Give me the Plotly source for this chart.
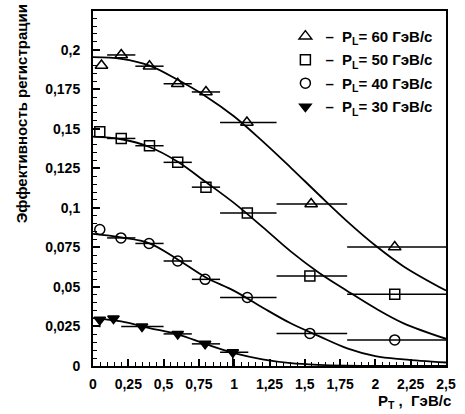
import plotly.graph_objects as go

# ---- data ----
# P_L = 60 GeV/c (open triangles)
x60 = [0.06, 0.20, 0.40, 0.60, 0.80, 1.09, 1.545, 2.137]
y60 = [0.190, 0.1967, 0.1896, 0.1785, 0.1733, 0.154, 0.1024, 0.0752]
lo60 = [None, 0.10, 0.30, 0.50, 0.70, 0.90, 1.30, 1.80]
hi60 = [None, 0.30, 0.50, 0.70, 0.90, 1.30, 1.80, 2.50]

# P_L = 50 GeV/c (open squares)
x50 = [0.048, 0.20, 0.40, 0.60, 0.80, 1.093, 1.536, 2.137]
y50 = [0.1481, 0.1439, 0.1393, 0.1288, 0.1131, 0.0967, 0.0569, 0.0454]
lo50 = [None, 0.10, 0.30, 0.50, 0.70, 0.90, 1.30, 1.80]
hi50 = [None, 0.30, 0.50, 0.70, 0.90, 1.30, 1.80, 2.50]

# P_L = 40 GeV/c (open circles)
x40 = [0.048, 0.198, 0.397, 0.60, 0.794, 1.093, 1.536, 2.137]
y40 = [0.0863, 0.081, 0.0775, 0.0664, 0.0548, 0.0433, 0.0206, 0.0165]
lo40 = [None, 0.10, 0.30, 0.50, 0.70, 0.90, 1.30, 1.80]
hi40 = [None, 0.30, 0.50, 0.70, 0.90, 1.30, 1.80, 2.50]

# P_L = 30 GeV/c (filled down triangles)
x30 = [0.048, 0.145, 0.347, 0.60, 0.794, 0.99]
y30 = [0.0292, 0.030, 0.025, 0.0203, 0.014, 0.0087]
lo30 = [None, None, 0.20, 0.50, 0.70, 0.90]
hi30 = [None, None, 0.50, 0.70, 0.90, 1.10]
ylo30 = [0.0245, None, None, None, None, 0.0]

cx = [0, 0.2, 0.4, 0.6, 0.8, 1.0, 1.2, 1.4, 1.6, 1.8, 2.0, 2.2, 2.5]
c60 = [0.1953, 0.1942, 0.1900, 0.1810, 0.1705, 0.1578, 0.1422, 0.1255, 0.1083, 0.0915, 0.0762, 0.0630, 0.0477]
c50 = [0.1450, 0.1434, 0.1385, 0.1292, 0.1163, 0.1030, 0.0880, 0.0725, 0.0590, 0.0475, 0.0365, 0.0270, 0.0172]
c40 = [0.0835, 0.0813, 0.0776, 0.0674, 0.0560, 0.0475, 0.0370, 0.0270, 0.0189, 0.0112, 0.0063, 0.0042, 0.0022]
c30 = [0.0303, 0.0282, 0.0240, 0.0200, 0.0138, 0.0081, 0.0042, 0.0018, 0.0007, 0.0002, 0.0, 0.0, 0.0]

names = ["–  P<sub>L</sub>= 60 ГэВ/с", "–  P<sub>L</sub>= 50 ГэВ/с",
         "–  P<sub>L</sub>= 40 ГэВ/с", "–  P<sub>L</sub>= 30 ГэВ/с"]

xt = [0, 0.25, 0.5, 0.75, 1, 1.25, 1.5, 1.75, 2, 2.25, 2.5]
xt_lab = ["0", "0,25", "0,5", "0,75", "1", "1,25", "1,5", "1,75", "2", "2,25", "2,5"]
yt = [0, 0.025, 0.05, 0.075, 0.1, 0.125, 0.15, 0.175, 0.2]
yt_lab = ["0", "0,025", "0,05", "0,075", "0,1", "0,125", "0,15", "0,175", "0,2"]

FONT = "Liberation Sans"
fig = go.Figure()

for cy in [c60, c50, c40, c30]:
    fig.add_trace(go.Scatter(x=cx, y=cy, mode="lines", line=dict(color="black", width=1.8, shape="spline", smoothing=1.0),
                             showlegend=False, hoverinfo="skip"))


def err(xs, lo, hi):
    plus = [(h - x) if h is not None else 0 for x, h in zip(xs, hi)]
    minus = [(x - l) if l is not None else 0 for x, l in zip(xs, lo)]
    return plus, minus


series = [
    (x60, y60, lo60, hi60, "triangle-up-open", 11, names[0], None),
    (x50, y50, lo50, hi50, "square-open", 10, names[1], None),
    (x40, y40, lo40, hi40, "circle-open", 10, names[2], None),
    (x30, y30, lo30, hi30, "triangle-down", 10, names[3], ylo30),
]
for i, (xs, ys, lo, hi, sym, sz, nm, ylo) in enumerate(series):
    plus, minus = err(xs, lo, hi)
    ey = None
    if ylo is not None:
        yminus = [(y - l) if l is not None else 0 for y, l in zip(ys, ylo)]
        ey = dict(type="data", symmetric=False, array=[0] * len(ys), arrayminus=yminus,
                  color="black", thickness=1.5, width=0)
    fig.add_trace(go.Scatter(
        x=xs, y=ys, mode="markers", name=nm, legendgroup=str(i),
        marker=dict(symbol=sym, size=sz, color="black", line=dict(color="black", width=1.5)),
        error_x=dict(type="data", symmetric=False, array=plus, arrayminus=minus,
                     color="black", thickness=1.5, width=0),
        error_y=ey,
    ))

fig.update_layout(
    width=465, height=414,
    margin=dict(l=93, r=9, t=9, b=48),
    paper_bgcolor="white", plot_bgcolor="white",
    font=dict(family=FONT, size=14, color="black", weight="bold"),
    showlegend=True,
    legend=dict(x=0.545, y=0.975, xanchor="left", yanchor="top", bgcolor="rgba(0,0,0,0)",
                font=dict(family=FONT, size=15, color="black", weight="bold"),
                traceorder="grouped", tracegroupgap=1, itemwidth=30),
    xaxis=dict(range=[0, 2.5], tickmode="array", tickvals=xt, ticktext=xt_lab,
               ticks="inside", ticklen=7, tickwidth=1.5, tickcolor="black",
               minor=dict(ticks="inside", ticklen=4, tickwidth=1, dtick=0.05, tick0=0, tickcolor="black"),
               showline=True, linecolor="black", linewidth=2, mirror=True,
               showgrid=False, zeroline=False, ticklabelstandoff=4,
               tickfont=dict(family=FONT, size=14, color="black", weight="bold")),
    yaxis=dict(range=[0, 0.2245], tickmode="array", tickvals=yt, ticktext=yt_lab,
               ticks="inside", ticklen=7, tickwidth=1.5, tickcolor="black",
               minor=dict(ticks="inside", ticklen=4, tickwidth=1, dtick=0.005, tick0=0, tickcolor="black"),
               showline=True, linecolor="black", linewidth=2, mirror=True,
               showgrid=False, zeroline=False, ticklabelstandoff=8,
               tickfont=dict(family=FONT, size=14, color="black", weight="bold")),
    annotations=[
        dict(text="P<sub>T</sub> ,  ГэВ/с", xref="paper", yref="paper", x=1.02, y=-0.1,
             xanchor="right", yanchor="middle", showarrow=False,
             font=dict(family=FONT, size=15, color="black", weight="bold")),
        dict(text="Эффективность регистрации", xref="paper", yref="paper", x=-0.2, y=0.71,
             xanchor="center", yanchor="middle", textangle=-90, showarrow=False,
             font=dict(family=FONT, size=15, color="black", weight="bold")),
    ],
)

fig.write_html("out.html")
